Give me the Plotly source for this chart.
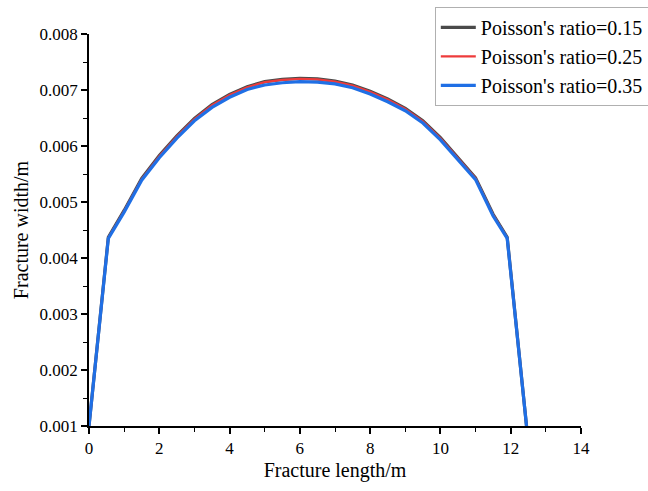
import plotly.graph_objects as go

x_len = [0, 0.55, 1.0, 1.5, 2.0, 2.5, 3.0, 3.5, 4.0, 4.5, 5.0, 5.5, 6.0,
         6.5, 7.0, 7.5, 8.0, 8.5, 9.0, 9.5, 10.0, 10.5, 11.0, 11.5, 11.9, 12.45]

w_015 = [0.001, 0.00437, 0.00485, 0.00542, 0.00583, 0.00618, 0.00649, 0.00674, 0.00692,
         0.00706, 0.00715, 0.00719, 0.00721, 0.00720, 0.00716, 0.00709, 0.00698, 0.00684,
         0.00667, 0.00645, 0.00615, 0.00580, 0.00543, 0.00478, 0.00437, 0.001]
w_025 = [0.001, 0.00436, 0.00484, 0.00541, 0.00582, 0.00617, 0.00648, 0.00673, 0.00691,
         0.00705, 0.00714, 0.00718, 0.00720, 0.00719, 0.00715, 0.00708, 0.00697, 0.00683,
         0.00666, 0.00644, 0.00614, 0.00579, 0.00542, 0.00477, 0.00436, 0.001]
w_035 = [0.001, 0.00435, 0.00482, 0.00539, 0.00579, 0.00614, 0.00645, 0.00669, 0.00687,
         0.00701, 0.00709, 0.00713, 0.00715, 0.00714, 0.00711, 0.00704, 0.00693, 0.00679,
         0.00663, 0.00641, 0.00611, 0.00576, 0.00540, 0.00475, 0.00435, 0.001]

names = ["Poisson's ratio=0.15", "Poisson's ratio=0.25", "Poisson's ratio=0.35"]
colors = ["#4a4a4a", "#ee3b3b", "#1f6fe5"]
widths = [3.2, 2.2, 3.2]

fig = go.Figure()
for ys, nm, c, w in zip([w_015, w_025, w_035], names, colors, widths):
    fig.add_trace(go.Scatter(x=x_len, y=ys, mode="lines", name=nm,
                             line=dict(color=c, width=w), cliponaxis=True))

font_family = "Times New Roman"
fig.update_layout(
    width=648, height=491,
    margin=dict(l=89, r=67, t=34, b=65, autoexpand=False),
    paper_bgcolor="white", plot_bgcolor="white",
    font=dict(family=font_family, color="black", size=17),
    showlegend=True,
    legend=dict(xref="container", yref="container", x=0.671, y=0.986,
                xanchor="left", yanchor="top",
                bordercolor="#b0b0b0", borderwidth=1, bgcolor="white",
                font=dict(family=font_family, size=20, color="black"),
                tracegroupgap=0, itemwidth=35),
    xaxis=dict(range=[0, 14], dtick=2, tick0=0, showgrid=False, zeroline=False,
               showline=True, linecolor="black", linewidth=1.5,
               ticks="outside", ticklen=6, tickwidth=1.5, tickcolor="black",
               minor=dict(dtick=1, ticks="outside", ticklen=4, tickwidth=1.2, tickcolor="black"),
               title=dict(text="Fracture length/m", font=dict(family=font_family, size=20), standoff=6),
               tickfont=dict(family=font_family, size=17)),
    yaxis=dict(range=[0.001, 0.008], dtick=0.001, tick0=0.001, tickformat=".3f",
               showgrid=False, zeroline=False,
               showline=True, linecolor="black", linewidth=1.5,
               ticks="outside", ticklen=6, tickwidth=1.5, tickcolor="black",
               minor=dict(dtick=0.0005, ticks="outside", ticklen=4, tickwidth=1.2, tickcolor="black"),
               title=dict(text="Fracture width/m", font=dict(family=font_family, size=20), standoff=6),
               tickfont=dict(family=font_family, size=17)),
)

fig.write_html("out.html")
